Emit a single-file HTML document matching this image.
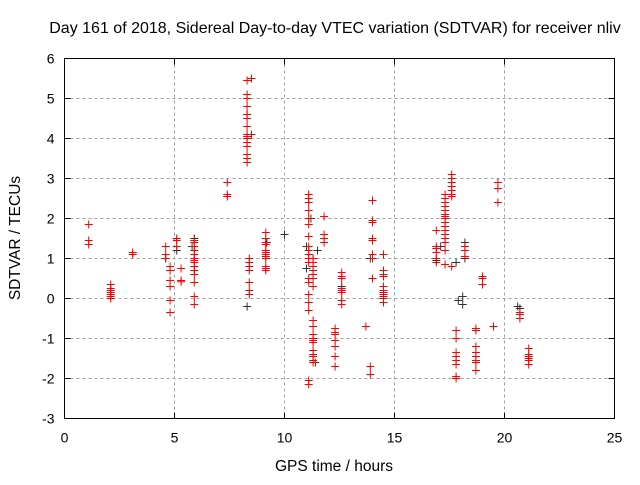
<!DOCTYPE html>
<html><head><meta charset="utf-8"><style>
body{margin:0;background:#fff}
svg text{font-family:"Liberation Sans",sans-serif;fill:#000}
</style></head><body>
<svg id="chart" width="640" height="480" viewBox="0 0 640 480" xmlns="http://www.w3.org/2000/svg">
<rect x="0" y="0" width="640" height="480" fill="#fff"/>
<text x="335" y="33" font-size="16" text-anchor="middle">Day 161 of 2018, Sidereal Day-to-day VTEC variation (SDTVAR) for receiver nliv</text>
<text x="334" y="471" font-size="15.5" text-anchor="middle">GPS time / hours</text>
<text transform="translate(20,238) rotate(-90)" font-size="15.5" text-anchor="middle">SDTVAR / TECUs</text>
<g id="grid"></g>
<g id="axes"></g>
<g id="black-points"></g>
<g id="red-points"></g>
<rect x="64.5" y="58.5" width="550" height="360" fill="none" stroke="#000" stroke-width="1"/>
</svg>
<script>
const xTicks = [0, 5, 10, 15, 20, 25];
const yTicks = [-3, -2, -1, 0, 1, 2, 3, 4, 5, 6];
const redGroupHours = [1.1, 2.1, 3.1, 4.6, 4.8, 5.1, 5.3, 5.9, 7.4, 8.3, 8.5, 8.4, 9.15, 11.1, 11.3, 11.8, 12.3, 12.6, 13.7, 13.9, 14.0, 14.5, 16.9, 17.3, 17.6, 17.8, 18.2, 18.7, 19.0, 19.5, 19.7, 20.7, 21.1];
const redGroupValues = [
 [1.85, 1.45, 1.35],
 [0.35, 0.25, 0.2, 0.15, 0.1, 0.05, 0.0, 0.2, 0.1],
 [1.15, 1.1],
 [1.3, 1.1, 1.0],
 [0.8, 0.7, 0.45, 0.3, -0.05, -0.35],
 [1.5, 1.45, 1.3],
 [0.75, 0.45, 0.42],
 [1.45, 1.4, 1.3, 1.2, 1.1, 1.0, 0.95, 0.9, 0.8, 0.7, 0.6, 0.4, 0.05, -0.15],
 [2.9, 2.6, 2.55],
 [5.45, 5.1, 5.0, 4.8, 4.6, 4.5, 4.3, 4.1, 4.05, 4.0, 3.9, 3.8, 3.6, 3.5, 3.4],
 [5.5, 4.1],
 [1.0, 0.9, 0.8, 0.7, 0.4, 0.2, 0.1],
 [1.65, 1.5, 1.4, 1.35, 1.2, 1.15, 1.1, 1.05, 1.0, 0.8, 0.75, 0.7],
 [2.6, 2.5, 2.4, 2.2, 2.0, 1.85, 1.55, 1.3, 1.2, 1.1, 1.0, 0.9, 0.5, 0.4, 0.1, -0.1, -0.3, -2.05, -2.15],
 [1.0, 0.9, 0.8, 0.7, 0.6, 0.5, 0.3, -0.55, -0.7, -0.9, -1.0, -1.05, -1.1, -1.3, -1.4, -1.45, -1.55, -1.6],
 [2.05, 1.6, 1.5, 1.4],
 [-0.75, -0.85, -0.9, -1.05, -1.2, -1.45, -1.7],
 [0.65, 0.55, 0.5, 0.25, 0.2, 0.15, -0.05, -0.15],
 [-0.7],
 [-1.7, -1.9],
 [2.45, 1.95, 1.9, 1.5, 1.45, 1.1, 1.0, 0.5],
 [1.1, 0.7, 0.6, 0.55, 0.3, 0.2, 0.15, 0.1, 0.05, 0.0, -0.1],
 [1.7, 1.3, 1.25, 1.15, 1.0, 0.9],
 [2.6, 2.5, 2.4, 2.3, 2.2, 2.1, 2.05, 2.0, 1.9, 1.8, 1.7, 1.6, 1.5, 1.4, 1.2, 0.85],
 [3.1, 3.0, 2.9, 2.8, 2.7, 2.6, 2.55, 0.8],
 [-0.8, -1.0, -1.35, -1.45, -1.55, -1.65, -1.95, -2.0],
 [1.3, 1.2, 1.05],
 [-0.75, -0.8, -1.2, -1.35, -1.45, -1.55, -1.6, -1.8],
 [0.55, 0.5, 0.35],
 [-0.7],
 [2.9, 2.75, 2.4],
 [-0.35, -0.4, -0.5],
 [-1.25, -1.4, -1.45, -1.5, -1.55, -1.65]
];
const blackHours = [8.3, 8.3, 10.0, 11.0, 11.2, 11.3, 11.4, 11.3, 12.6, 13.9, 14.0, 14.5, 17.8, 17.9, 18.2, 18.2, 18.1, 18.1, 20.6, 20.7, 5.9, 5.8, 5.1, 9.2, 11.5, 17.1, 16.9, 11.0, 4.6];
const blackValues = [-0.2, 4.6, 1.6, 0.75, 2.0, 1.0, -1.6, -1.0, 0.3, 1.0, 1.5, 0.0, 0.9, -0.05, 1.4, 1.0, 0.05, -0.15, -0.2, -0.25, 1.5, 1.3, 1.2, 1.4, 1.2, 1.3, 0.95, 1.3, 1.0];

const NS = "http://www.w3.org/2000/svg";
const X0 = 64.5, X1 = 614.5, Y0 = 418.5, Y1 = 58.5;
function xScale(h){ return X0 + (h - 0) / 25 * (X1 - X0); }
function yScale(v){ return Y0 - (v + 3) / 9 * (Y0 - Y1); }
function mk(tag, parent){ const e = document.createElementNS(NS, tag); parent.appendChild(e); return e; }

const grid = document.getElementById('grid');
const axes = document.getElementById('axes');
xTicks.forEach(t => {
  const x = xScale(t);
  if (t > 0 && t < 25) {
    const g = mk('line', grid);
    
    
    g.setAttribute('x1', x); g.setAttribute('x2', x); g.setAttribute('y1', Y1); g.setAttribute('y2', Y0);
    g.setAttribute('stroke', '#a0a0a0'); g.setAttribute('stroke-dasharray', '3,3');
  }
  const tk = mk('path', axes);
  
  
  tk.setAttribute('d', `M${x},${Y0}v-6M${x},${Y1}v6`); tk.setAttribute('stroke', '#000');
  const lb = mk('text', axes);
  
  
  lb.setAttribute('x', x); lb.setAttribute('y', Y0 + 24); lb.setAttribute('font-size', '14'); lb.setAttribute('text-anchor', 'middle');
  lb.textContent = t;
});
yTicks.forEach(t => {
  const y = yScale(t);
  if (t > -3 && t < 6) {
    const g = mk('line', grid);
    
    
    g.setAttribute('x1', X0); g.setAttribute('x2', X1); g.setAttribute('y1', y); g.setAttribute('y2', y);
    g.setAttribute('stroke', '#a0a0a0'); g.setAttribute('stroke-dasharray', '3,3');
  }
  const tk = mk('path', axes);
  
  
  tk.setAttribute('d', `M${X0},${y}h6M${X1},${y}h-6`); tk.setAttribute('stroke', '#000');
  const lb = mk('text', axes);
  
  
  lb.setAttribute('x', X0 - 10); lb.setAttribute('y', y + 5); lb.setAttribute('font-size', '14'); lb.setAttribute('text-anchor', 'end');
  lb.textContent = t;
});

function plus(parent, h, v, color){
  const x = xScale(h), y = yScale(v);
  const p = mk('path', parent);
  
  
  p.setAttribute('d', `M${x-4},${y}h8M${x},${y-4}v8`);
  p.setAttribute('stroke', color); p.setAttribute('stroke-width', '1');
}
const bg = document.getElementById('black-points');
blackHours.forEach((h, i) => plus(bg, h, blackValues[i], '#303030'));
const rg = document.getElementById('red-points');
redGroupHours.forEach((h, i) => redGroupValues[i].forEach(v => plus(rg, h, v, '#ff0000')));
</script>
</body></html>
